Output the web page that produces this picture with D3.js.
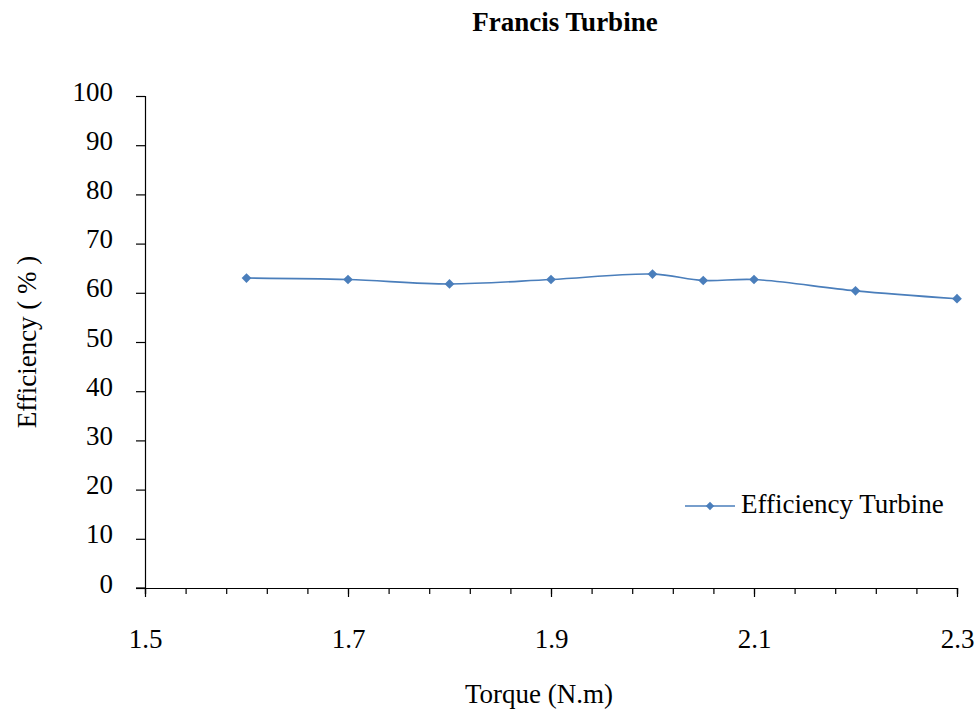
<!DOCTYPE html>
<html>
<head>
<meta charset="utf-8">
<script src="https://cdn.jsdelivr.net/npm/d3@7"></script>
<style>
  body { margin: 0; background: #fff; }
  svg text { font-family: "Liberation Serif", "Times New Roman", serif; fill: #000; }
</style>
</head>
<body>
<svg id="chart" width="977" height="709"></svg>
<script>
// Francis turbine test: efficiency against torque
const torque = [1.6, 1.7, 1.8, 1.9, 2.0, 2.05, 2.1, 2.2, 2.3];
const efficiency = [63.0, 62.7, 61.8, 62.7, 63.8, 62.5, 62.7, 60.4, 58.8];
const xTicks = [1.5, 1.7, 1.9, 2.1, 2.3];
const yTicks = [0, 10, 20, 30, 40, 50, 60, 70, 80, 90, 100];
const seriesName = "Efficiency Turbine";

const svg = d3.select("#chart");
const color = "#4A7EBB";

const x = d3.scaleLinear().domain([1.5, 2.3]).range([145, 957]);
const y = d3.scaleLinear().domain([0, 100]).range([588, 96]);

// title
svg.append("text")
  .attr("x", 565).attr("y", 31)
  .attr("text-anchor", "middle")
  .style("font-size", "27px").style("font-weight", "bold")
  .text("Francis Turbine");

// y axis
const yAxis = svg.append("g")
  .attr("transform", `translate(${x.range()[0]},0)`)
  .call(d3.axisLeft(y).tickValues(yTicks).tickSize(9).tickPadding(23).tickFormat(d3.format("d")));
yAxis.select(".domain").attr("stroke", "#000").attr("stroke-width", 1.2);
yAxis.selectAll(".tick line").attr("stroke", "#000").attr("stroke-width", 1.2);
yAxis.selectAll(".tick text").style("font-size", "27px").attr("dy", "0.15em");

// x axis: minor ticks every 0.04, major ticks labelled
const minorTicks = d3.range(0, 21).map(i => +(1.5 + i * 0.04).toFixed(2));
const xMinor = svg.append("g")
  .attr("transform", `translate(0,${y.range()[0]})`)
  .call(d3.axisBottom(x).tickValues(minorTicks).tickSize(6).tickFormat(""));
xMinor.select(".domain").attr("stroke", "#000").attr("stroke-width", 1.2);
xMinor.selectAll(".tick line").attr("stroke", "#000").attr("stroke-width", 1.2);

const xMajor = svg.append("g")
  .attr("transform", `translate(0,${y.range()[0]})`)
  .call(d3.axisBottom(x).tickValues(xTicks).tickSize(9).tickPadding(32).tickFormat(d3.format(".1f")));
xMajor.select(".domain").remove();
xMajor.selectAll(".tick line").attr("stroke", "#000").attr("stroke-width", 1.2);
xMajor.selectAll(".tick text").style("font-size", "27px");

// extend the axis line slightly past the y axis on the left
svg.append("line")
  .attr("x1", x.range()[0] - 9).attr("x2", x.range()[0])
  .attr("y1", y.range()[0]).attr("y2", y.range()[0])
  .attr("stroke", "#000").attr("stroke-width", 1.2);

// axis titles
svg.append("text")
  .attr("x", 539).attr("y", 703)
  .attr("text-anchor", "middle")
  .style("font-size", "27px")
  .text("Torque (N.m)");

svg.append("text")
  .attr("transform", "translate(36,342) rotate(-90)")
  .attr("text-anchor", "middle")
  .style("font-size", "27px")
  .text("Efficiency ( % )");

// series
const pts = torque.map((t, i) => [t, efficiency[i]]);
const line = d3.line()
  .x(d => x(d[0])).y(d => y(d[1]))
  .curve(d3.curveCatmullRom.alpha(0.5));

svg.append("path")
  .datum(pts)
  .attr("fill", "none")
  .attr("stroke", color)
  .attr("stroke-width", 1.6)
  .attr("d", line);

const diamond = d3.symbol().type(d3.symbolDiamond2).size(60);
svg.append("g").selectAll("path")
  .data(pts)
  .join("path")
  .attr("transform", d => `translate(${x(d[0])},${y(d[1])})`)
  .attr("d", diamond)
  .attr("fill", color);

// legend
const legend = svg.append("g").attr("transform", "translate(685,506)");
legend.append("line")
  .attr("x1", 0).attr("x2", 50).attr("y1", 0).attr("y2", 0)
  .attr("stroke", color).attr("stroke-width", 1.6);
legend.append("path")
  .attr("transform", "translate(25,0)")
  .attr("d", d3.symbol().type(d3.symbolDiamond2).size(45))
  .attr("fill", color);
legend.append("text")
  .attr("x", 56).attr("y", 7)
  .style("font-size", "27px")
  .text(seriesName);
</script>
</body>
</html>
